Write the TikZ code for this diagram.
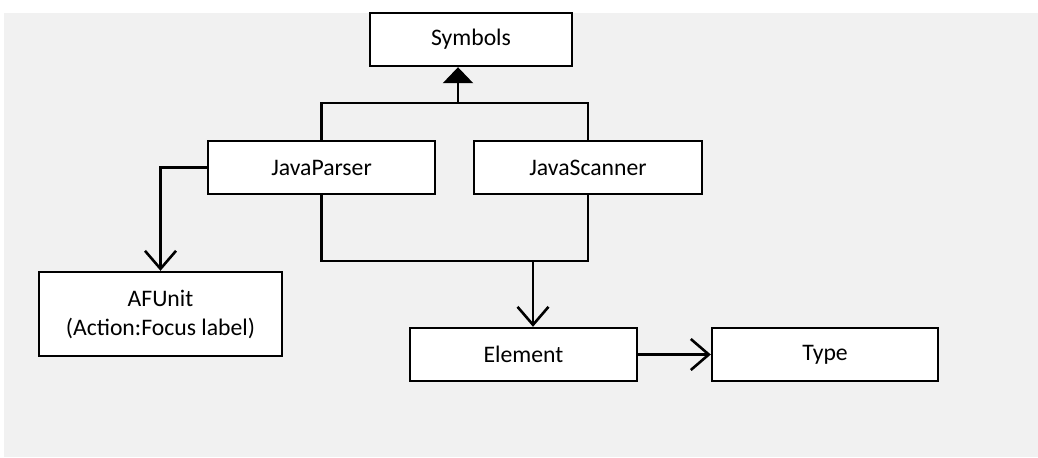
\documentclass[tikz,border=0pt]{standalone}
\usepackage{fontspec}
\setmainfont{Carlito}
\usetikzlibrary{arrows.meta}
\definecolor{panel}{HTML}{F1F1F1}
\tikzset{
  box/.style={draw=black, fill=white, line width=1.2pt, inner sep=0pt,
    align=center, font=\fontsize{11.85}{14.5}\selectfont},
  link/.style={draw=black, line width=1.3pt, line join=miter},
  open/.style={link, -{Straight Barb[length=9pt, width=15.5pt]}},
  solid head/.style={link, -{Triangle[length=8pt, width=15pt]}}
}
\begin{document}
\begin{tikzpicture}[x=0.5pt, y=-0.5pt]
  % canvas and grey panel
  \useasboundingbox (0,0) rectangle (1038,457);
  \fill[white] (0,0) rectangle (1038,457);
  \fill[panel] (4,13) rectangle (1038,457);

  % classes
  \node[box, minimum width=101pt, minimum height=26.5pt] (sym) at (471,39.5) {Symbols};
  \node[box, minimum width=113.5pt, minimum height=26.5pt] (jp) at (321.5,167.5) {JavaParser};
  \node[box, minimum width=114pt, minimum height=26.5pt] (js) at (588,167.5) {JavaScanner};
  \node[box, minimum width=121.5pt, minimum height=42pt] (af) at (160.5,314) {AFUnit\\(Action:Focus label)};
  \node[box, minimum width=113.5pt, minimum height=26.5pt] (el) at (523.5,354.5) {Element};
  \node[box, minimum width=113pt, minimum height=26.5pt] (ty) at (825,354.5) {Type};

  % junction points of the merged connectors
  \coordinate (up) at (458,103);
  \coordinate (down) at (533,261);

  % parser and scanner both point to Symbols
  \draw[link] (jp.north) |- (up) -| (js.north);
  \draw[solid head] (up) -- (up |- sym.south);

  % parser uses AFUnit
  \draw[open] (jp.west) -| (af.north);

  % parser and scanner both use Element
  \draw[link] (jp.south) |- (down) -| (js.south);
  \draw[open] (down) -- (down |- el.north);

  % Element uses Type
  \draw[open] (el.east) -- (ty.west);
\end{tikzpicture}
\end{document}
